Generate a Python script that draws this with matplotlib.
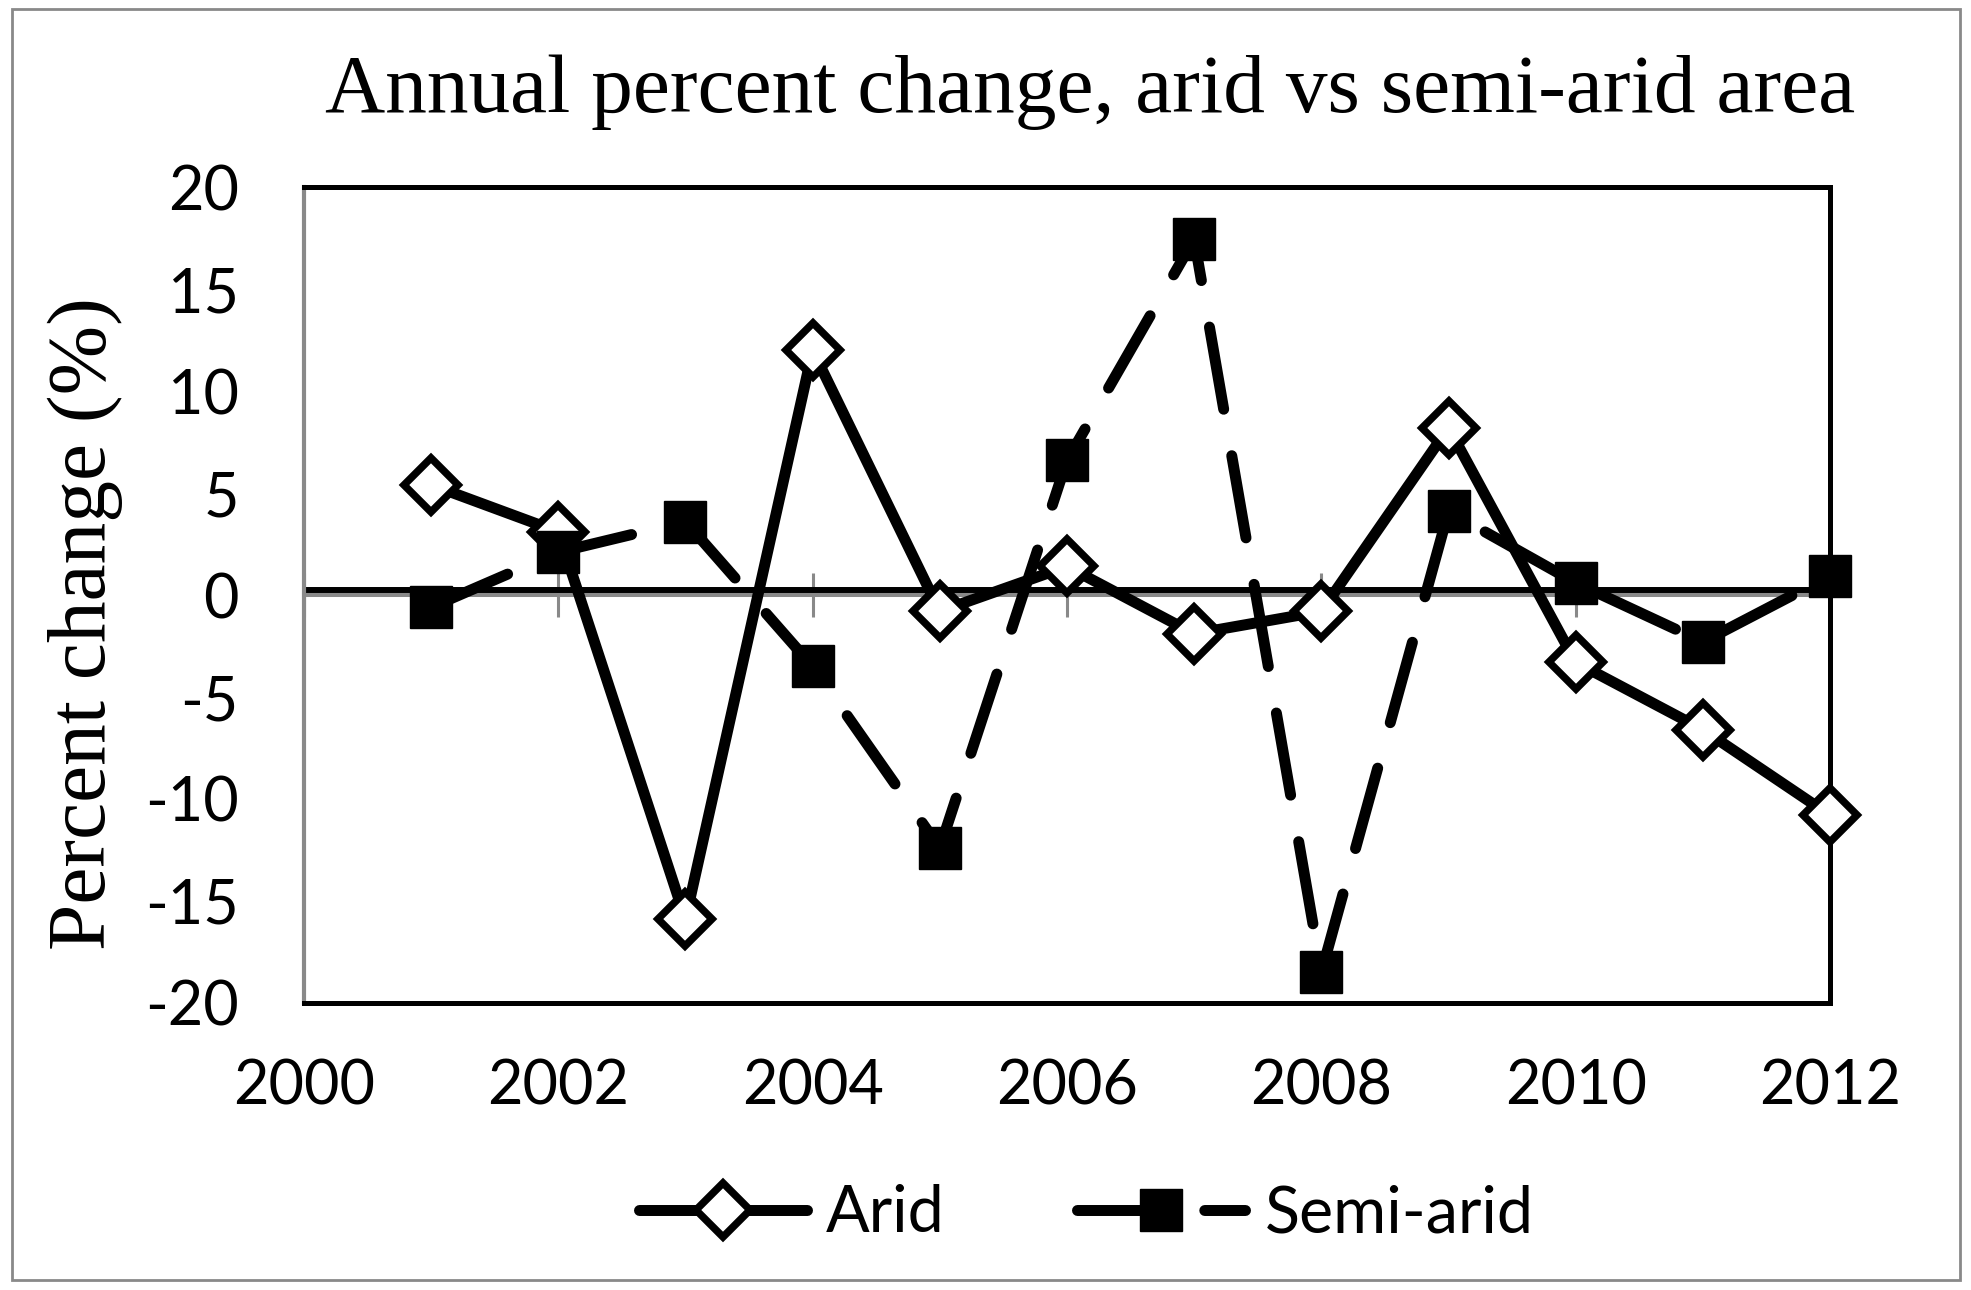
import matplotlib
matplotlib.use("Agg")
import matplotlib.pyplot as plt
from matplotlib.lines import Line2D
from matplotlib.patches import Rectangle
from matplotlib.transforms import offset_copy

# ----> data
years = [2001, 2002, 2003, 2004, 2005, 2006, 2007, 2008, 2009, 2010, 2011, 2012]
arid = [5.4, 3.1, -15.9, 12.0, -0.8, 1.4, -1.9, -0.8, 8.2, -3.3, -6.6, -10.8]
semi_arid = [-0.6, 2.1, 3.6, -3.5, -12.4, 6.6, 17.45, -18.5, 4.1, 0.6, -2.3, 0.95]

x_ticks = [2000, 2002, 2004, 2006, 2008, 2010, 2012]
y_ticks = [-20, -15, -10, -5, 0, 5, 10, 15, 20]

title = "Annual percent change, arid vs semi-arid area"
ylabel = "Percent change (%)"

plt.rcParams["axes.unicode_minus"] = False

tick_font = "Lato"
serif_font = "Liberation Serif"
grey = "#898989"
lw = 7.9

fig = plt.figure(figsize=(19.71, 12.9), dpi=100, facecolor="white")
ax = fig.add_axes([0.1542, 0.2225, 0.9285 - 0.1542, 0.855 - 0.2225])

# outer chart border
fig.patches.append(Rectangle((12 / 1971, 1 - 1280 / 1290), (1960 - 12) / 1971, (1280 - 9) / 1290,
                             transform=fig.transFigure, fill=False, edgecolor=grey, linewidth=2))

# black line sitting just above the grey zero axis
zero_tr = offset_copy(ax.get_yaxis_transform(), fig=fig, y=3.6, units="points")
ax.add_line(Line2D([0, 1], [0, 0], transform=zero_tr, color="black", linewidth=4.3, zorder=2))

ax.plot(years, arid, color="black", linewidth=lw, marker="D", markersize=28,
        markerfacecolor="white", markeredgecolor="black", markeredgewidth=5.4,
        solid_joinstyle="round", solid_capstyle="round", zorder=3, clip_on=False)
ax.plot(years, semi_arid, color="black", linewidth=lw, marker="s", markersize=30,
        markerfacecolor="black", markeredgecolor="black", markeredgewidth=1,
        dashes=(7.6, 4.3), dash_capstyle="round", zorder=4, clip_on=False)

ax.set_xlim(2000, 2012)
ax.set_ylim(-20, 20)
ax.set_xticks(x_ticks)
ax.set_yticks(y_ticks)
ax.tick_params(axis="both", length=0, labelsize=44)
ax.tick_params(axis="y", pad=47)
ax.tick_params(axis="x", pad=40)
for lab in ax.get_xticklabels() + ax.get_yticklabels():
    lab.set_fontfamily(tick_font)

for side in ["top", "right", "bottom"]:
    ax.spines[side].set_color("black")
    ax.spines[side].set_linewidth(3.6)
ax.spines["left"].set_color(grey)
ax.spines["left"].set_linewidth(3)

# grey category axis crossing at zero, with ticks going both ways
secax = ax.secondary_xaxis(0.5)
secax.set_xticks(x_ticks)
secax.tick_params(direction="inout", length=31, width=2.2, color=grey,
                  labelbottom=False, labeltop=False)
for sp in secax.spines.values():
    sp.set_color(grey)
    sp.set_linewidth(2.9)
secax.set_zorder(1)

fig.text(0.553, 1 - 112 / 1290, title, family=serif_font, fontsize=60,
         ha="center", va="baseline")
fig.text(0.0431, 0.517, ylabel, family=serif_font, fontsize=60,
         rotation=90, ha="center", va="center")

# legend
h_arid = Line2D([], [], color="black", linewidth=lw, marker="D", markersize=28,
                markerfacecolor="white", markeredgecolor="black", markeredgewidth=5.4,
                solid_capstyle="round")
h_semi = Line2D([], [], color="black", linewidth=lw, marker="s", markersize=30,
                markerfacecolor="black", markeredgewidth=1,
                dashes=(9.1, 2.5), dash_capstyle="round")
fig.legend([h_arid, h_semi], ["Arid", "Semi-arid"], loc="center",
           bbox_to_anchor=(0.551, 0.059), frameon=False, ncol=2,
           handlelength=2.6, handletextpad=0.3, columnspacing=2.05,
           prop={"family": tick_font, "size": 46.5})

fig.savefig("out.png", dpi=100, facecolor="white")
